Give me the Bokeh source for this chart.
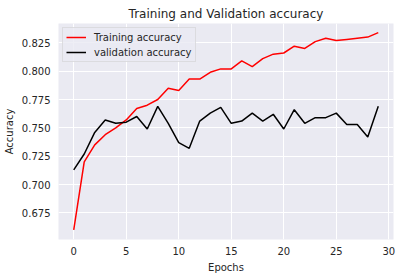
from bokeh.plotting import figure
from bokeh.models import FixedTicker, PrintfTickFormatter, Range1d, Legend, LegendItem
from bokeh.embed import file_html
from bokeh.resources import INLINE

epochs = list(range(30))
train_acc = [0.660, 0.720, 0.735, 0.744, 0.750, 0.757, 0.767, 0.770, 0.775, 0.785,
             0.783, 0.793, 0.793, 0.799, 0.802, 0.802, 0.809, 0.804, 0.811, 0.815,
             0.816, 0.822, 0.820, 0.826, 0.829, 0.827, 0.828, 0.829, 0.830, 0.834]
val_acc = [0.713, 0.727, 0.746, 0.757, 0.754, 0.755, 0.760, 0.749, 0.769, 0.754,
           0.737, 0.732, 0.756, 0.763, 0.768, 0.754, 0.756, 0.763, 0.756, 0.762,
           0.749, 0.766, 0.754, 0.759, 0.759, 0.763, 0.753, 0.753, 0.742, 0.769]
x_ticks = [0, 5, 10, 15, 20, 25, 30]
y_ticks = [0.675, 0.700, 0.725, 0.750, 0.775, 0.800, 0.825]

FONT = "DejaVu Sans"
TXT = "#262626"

p = figure(width=400, height=278, output_backend="svg", toolbar_location=None,
           x_range=Range1d(-1.45, 30.45), y_range=Range1d(0.6516, 0.842),
           min_border_left=57, min_border_right=7, min_border_top=23, min_border_bottom=39,
           background_fill_color="#EAEAF2", border_fill_color="white")
p.outline_line_color = None

p.title.text = "Training and Validation accuracy"
p.title.text_font = FONT
p.title.text_font_size = "12px"
p.title.text_font_style = "normal"
p.title.text_color = TXT
p.title.align = "center"
p.title.standoff = 5

r1 = p.line(epochs, train_acc, line_color="red", line_width=1.5)
r2 = p.line(epochs, val_acc, line_color="black", line_width=1.5)

p.xaxis.ticker = FixedTicker(ticks=x_ticks)
p.yaxis.ticker = FixedTicker(ticks=y_ticks)
p.xaxis.formatter = PrintfTickFormatter(format="%d")
p.yaxis.formatter = PrintfTickFormatter(format="%.3f")
p.xaxis.axis_label = "Epochs"
p.yaxis.axis_label = "Accuracy"

for ax in (p.xaxis, p.yaxis):
    ax.axis_line_color = None
    ax.major_tick_line_color = None
    ax.minor_tick_line_color = None
    ax.major_tick_out = 0
    ax.major_tick_in = 0
    ax.minor_tick_out = 0
    ax.minor_tick_in = 0
    ax.major_label_text_font = FONT
    ax.major_label_text_font_size = "10px"
    ax.major_label_text_color = TXT
    ax.axis_label_text_font = FONT
    ax.axis_label_text_font_size = "10px"
    ax.axis_label_text_font_style = "normal"
    ax.axis_label_text_color = TXT
    ax.axis_label_standoff = 4
p.xaxis.major_label_standoff = 7
p.yaxis.major_label_standoff = 8

p.xgrid.grid_line_color = "white"
p.ygrid.grid_line_color = "white"
p.xgrid.grid_line_width = 1
p.ygrid.grid_line_width = 1

legend = Legend(items=[LegendItem(label="Training accuracy", renderers=[r1]),
                       LegendItem(label="validation accuracy", renderers=[r2])],
                location="top_left", margin=4, padding=3, spacing=3,
                glyph_width=20, glyph_height=12, label_height=12, label_standoff=8,
                label_text_font=FONT, label_text_font_size="10px", label_text_color=TXT,
                background_fill_color="#EAEAF2", background_fill_alpha=0.8,
                border_line_color="#cccccc", border_line_width=1)
p.add_layout(legend)

open("out.html", "w").write(file_html(p, INLINE))
